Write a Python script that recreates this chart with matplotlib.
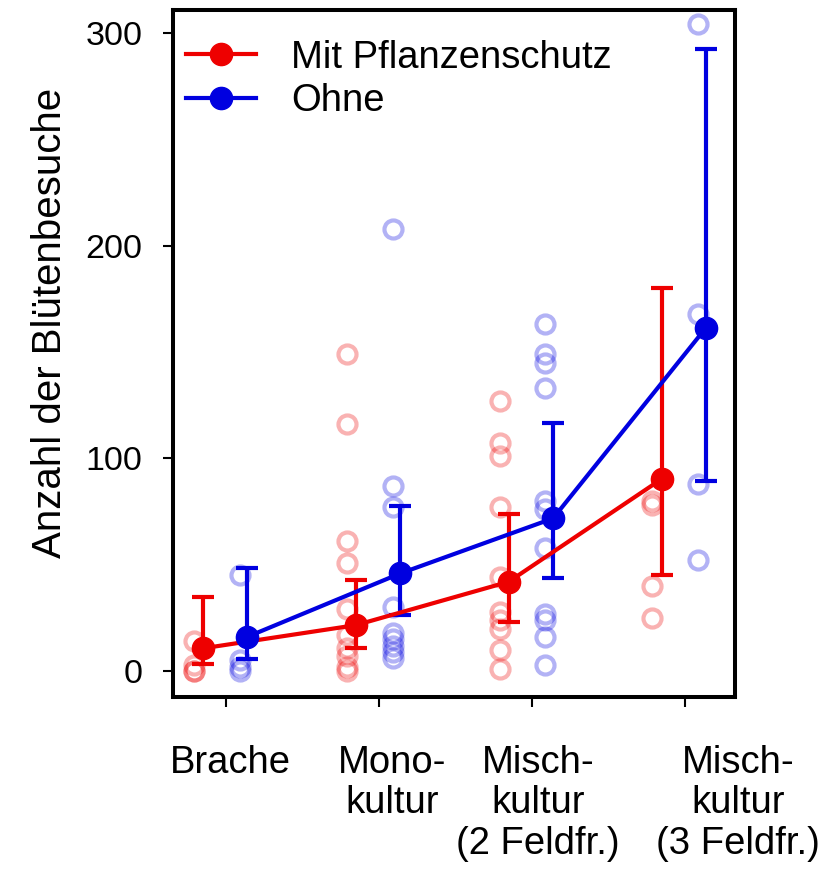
import matplotlib
matplotlib.use('Agg')
import matplotlib.pyplot as plt
from matplotlib.transforms import blended_transform_factory
import numpy as np

plt.rcParams['font.family'] = ['Liberation Sans', 'DejaVu Sans']

categories = ['Brache', 'Mono-\nkultur', 'Misch-\nkultur\n(2 Feldfr.)', 'Misch-\nkultur\n(3 Feldfr.)']
label_shift = [0.03, 0.09, 0.04, 0.35]

# raw counts per plot
mit_raw = [
    [14, 3, 0, 0],
    [149, 116, 61, 51, 29, 17, 11, 7, 2, 0],
    [127, 107, 101, 77, 44, 28, 24, 20, 10, 1],
    [80, 78, 40, 25],
]
ohne_raw = [
    [45, 5, 2, 0],
    [208, 87, 77, 30, 18, 15, 12, 9, 6],
    [163, 149, 145, 133, 80, 76, 58, 27, 24, 16, 3],
    [304, 168, 88, 52],
]

# model means with confidence intervals
mit_mean = [10.7, 21.6, 42.0, 90.3]
mit_lo = [3.3, 11.0, 23.2, 45.1]
mit_hi = [34.6, 42.8, 73.7, 180.2]
ohne_mean = [16.1, 45.9, 71.8, 161.4]
ohne_lo = [5.5, 26.3, 43.6, 89.3]
ohne_hi = [48.6, 77.6, 116.5, 292.3]

red = '#ee0000'
blue = '#0000e0'

fig = plt.figure(figsize=(8.25, 8.76), dpi=100)
ax = fig.add_axes([0.2097, 0.2043, 0.6812, 0.7843])

x = np.arange(len(categories))

for i in range(len(categories)):
    ax.plot(np.full(len(mit_raw[i]), x[i] - 0.21), mit_raw[i], 'o', ms=13, mfc='none',
            mec=red, mew=3, alpha=0.3, zorder=1)
    ax.plot(np.full(len(ohne_raw[i]), x[i] + 0.09), ohne_raw[i], 'o', ms=13, mfc='none',
            mec=blue, mew=3, alpha=0.3, zorder=1)

xm = x - 0.15
xo = x + 0.14
mit_mean = np.array(mit_mean)
ohne_mean = np.array(ohne_mean)
ax.errorbar(xm, mit_mean, yerr=[mit_mean - np.array(mit_lo), np.array(mit_hi) - mit_mean],
            fmt='none', ecolor=red, elinewidth=3, capsize=8, capthick=3, zorder=2)
ax.errorbar(xo, ohne_mean, yerr=[ohne_mean - np.array(ohne_lo), np.array(ohne_hi) - ohne_mean],
            fmt='none', ecolor=blue, elinewidth=3, capsize=8, capthick=3, zorder=2)
ax.plot(xm, mit_mean, '-o', color=red, lw=3, ms=16, label='Mit Pflanzenschutz', zorder=3)
ax.plot(xo, ohne_mean, '-o', color=blue, lw=3, ms=16, label='Ohne', zorder=3)

ax.set_xlim(-0.346, 3.33)
ax.set_ylim(-12.2, 310.8)
ax.set_yticks([0, 100, 200, 300])
ax.set_xticks(x)
ax.set_xticklabels([''] * len(categories))
ax.tick_params(axis='both', length=7, width=1.5, labelsize=24.5, pad=15)
for s in ax.spines.values():
    s.set_linewidth(2.9)

trans = blended_transform_factory(ax.transData, ax.transAxes)
for i, lab in enumerate(categories):
    ax.text(x[i] + label_shift[i], -0.07, lab, transform=trans, ha='center', va='top',
            fontsize=27.5, linespacing=1.15)

fig.text(50 / 825, 1 - 323 / 876, 'Anzahl der Blütenbesuche', rotation=90,
         ha='center', va='center', fontsize=29)

ax.legend(loc='upper left', frameon=False, fontsize=27.5, handlelength=1.85,
          handletextpad=0.9, borderaxespad=0.2, labelspacing=0.2,
          bbox_to_anchor=(-0.018, 0.99))

fig.savefig('out.png', dpi=100)
